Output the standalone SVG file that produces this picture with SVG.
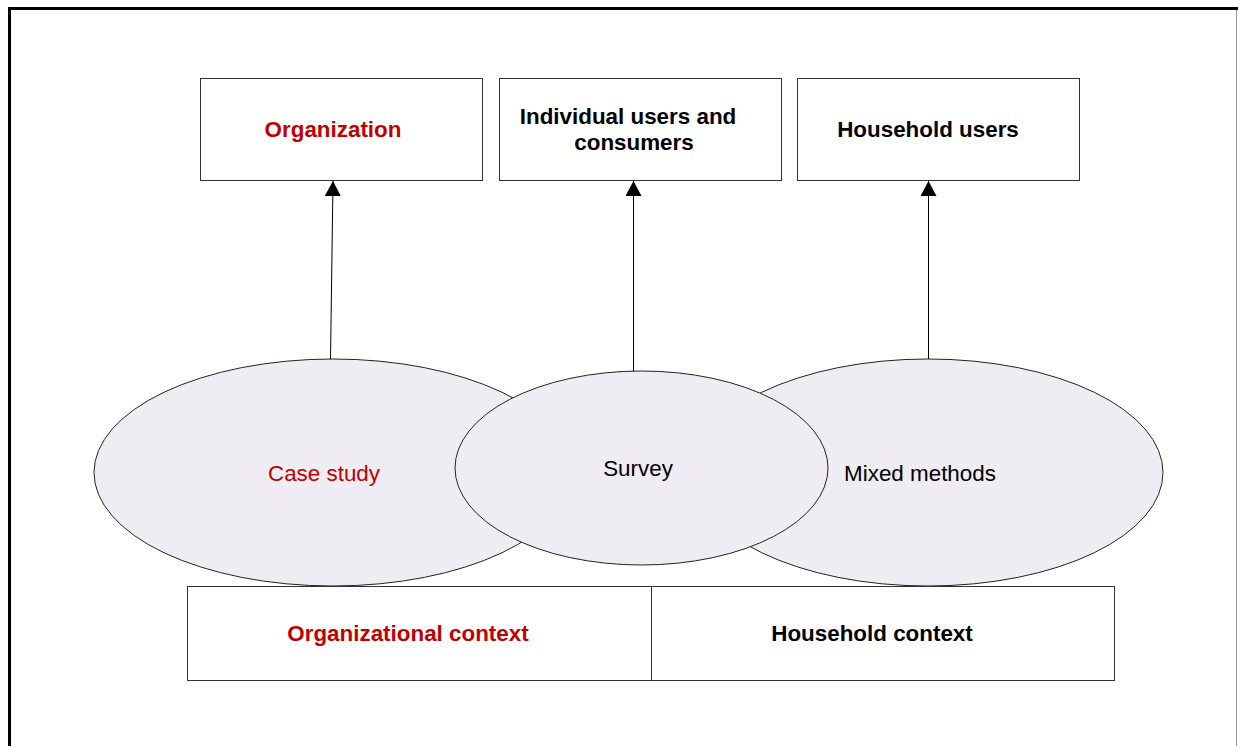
<svg xmlns="http://www.w3.org/2000/svg" width="1238" height="746" viewBox="0 0 1238 746">
  <defs>
    <marker id="arrow" markerUnits="userSpaceOnUse" markerWidth="16" markerHeight="18" refX="15" refY="8" orient="auto">
      <path d="M0,0 L15,8 L0,16 Z" fill="#000"/>
    </marker>
    <style>
      .box { fill: #fff; stroke: #333; stroke-width: 1; }
      .ell { fill: #efedf3; stroke: #222; stroke-width: 1; }
      .t { font-family: "Liberation Sans", Arial, sans-serif; font-size: 22.4px; text-anchor: middle; }
      .b { font-weight: bold; }
      .red { fill: #c00000; }
      .blk { fill: #000; }
      .conn { stroke: #000; stroke-width: 1; fill: none; }
    </style>
  </defs>
  <rect width="1238" height="746" fill="#fff"/>
  <g id="frame">
    <path d="M9.5,746 V8.5 H1238" fill="none" stroke="#000" stroke-width="3"/>
    <line x1="1236.5" y1="10" x2="1236.5" y2="746" stroke="#999" stroke-width="1"/>
  </g>

  <g id="organization">
    <rect class="box" x="200.5" y="78.5" width="282" height="102"/>
    <text class="t b red" x="333" y="137">Organization</text>
  </g>
  <g id="individual">
    <rect class="box" x="499.5" y="78.5" width="282" height="102"/>
    <text class="t b blk" x="628" y="124">Individual users and</text>
    <text class="t b blk" x="634" y="150">consumers</text>
  </g>
  <g id="household-users">
    <rect class="box" x="797.5" y="78.5" width="282" height="102"/>
    <text class="t b blk" x="928" y="137">Household users</text>
  </g>

  <g id="connectors">
    <line class="conn" x1="330.5" y1="360" x2="333" y2="181" marker-end="url(#arrow)"/>
    <line class="conn" x1="633.5" y1="372" x2="633.5" y2="181" marker-end="url(#arrow)"/>
    <line class="conn" x1="928.5" y1="360" x2="928.5" y2="181" marker-end="url(#arrow)"/>
  </g>

  <g id="case-study">
    <ellipse class="ell" cx="333" cy="472.5" rx="239" ry="113.5"/>
    <text class="t red" x="324" y="481">Case study</text>
  </g>
  <g id="mixed-methods">
    <ellipse class="ell" cx="928" cy="472.5" rx="235" ry="113.5"/>
    <text class="t blk" x="920" y="481">Mixed methods</text>
  </g>
  <g id="survey">
    <ellipse class="ell" cx="641.5" cy="468" rx="186.5" ry="97"/>
    <text class="t blk" x="638" y="476">Survey</text>
  </g>

  <g id="organizational-context">
    <rect class="box" x="187.5" y="586.5" width="465" height="94"/>
    <text class="t b red" x="408" y="641">Organizational context</text>
  </g>
  <g id="household-context">
    <rect class="box" x="651.5" y="586.5" width="463" height="94"/>
    <text class="t b blk" x="872" y="641">Household context</text>
  </g>
</svg>
